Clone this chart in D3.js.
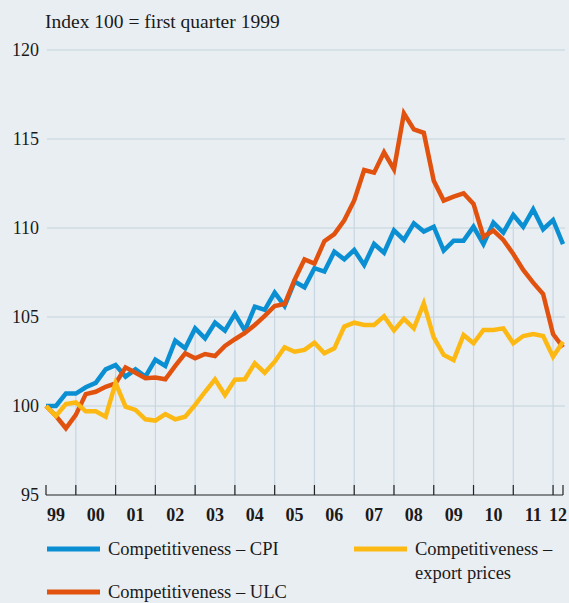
<!DOCTYPE html>
<html>
<head>
<meta charset="utf-8">
<script src="https://cdn.jsdelivr.net/npm/d3@7"></script>
<style>
  body { margin: 0; background: #e9eef3; }
  svg { display: block; }
  text { font-family: "Liberation Serif", "Times New Roman", serif; fill: #1a1a1a; }
</style>
</head>
<body>
<div id="chart"></div>
<script>
// quarterly data, 1999 Q1 .. 2012 Q1 (index 100 = 1999 Q1)
var cpi = [100.0, 100.0, 100.7, 100.7, 101.05, 101.3, 102.06, 102.3, 101.65, 102.06,
  101.65, 102.6, 102.25, 103.67, 103.24, 104.36, 103.8, 104.68, 104.23, 105.17,
  104.23, 105.58, 105.4, 106.37, 105.62, 106.99, 106.67, 107.74, 107.55, 108.67,
  108.24, 108.76, 107.92, 109.1, 108.61, 109.87, 109.33, 110.26, 109.8, 110.07,
  108.73, 109.29, 109.29, 110.07, 109.1, 110.3, 109.74, 110.73, 110.07, 111.05,
  109.93, 110.45, 109.1]
var ulc = [100.0, 99.44, 98.75, 99.5, 100.67, 100.8, 101.08, 101.27, 102.17, 101.87,
  101.56, 101.6, 101.5, 102.25, 102.96, 102.68, 102.92, 102.81, 103.37, 103.75,
  104.1, 104.55, 105.06, 105.62, 105.73, 107.08, 108.24, 108.0, 109.26, 109.66,
  110.43, 111.55, 113.26, 113.11, 114.25, 113.3, 116.44, 115.54, 115.35, 112.66,
  111.54, 111.76, 111.95, 111.35, 109.51, 109.85, 109.33, 108.54, 107.64, 106.93,
  106.29, 104.04, 103.3]
var exportPrices = [100.0, 99.44, 100.11, 100.2, 99.7, 99.7, 99.4, 101.3, 99.96, 99.78,
  99.25, 99.18, 99.55, 99.25, 99.4, 100.06, 100.8, 101.5, 100.62, 101.48,
  101.5, 102.4, 101.87, 102.49, 103.3, 103.05, 103.15, 103.56, 102.96, 103.24,
  104.46, 104.68, 104.55, 104.55, 105.04, 104.25, 104.9, 104.36, 105.77, 103.86,
  102.87, 102.58, 103.99, 103.52, 104.27, 104.27, 104.36, 103.52, 103.93, 104.04,
  103.93, 102.77, 103.61]

var yearLabels = ["99", "00", "01", "02", "03", "04", "05", "06", "07", "08", "09", "10", "11", "12"]
var yTicks = [95, 100, 105, 110, 115, 120]
var seriesNames = ["Competitiveness \u2013 CPI", "Competitiveness \u2013 ULC",
  ["Competitiveness \u2013", "export prices"]]
var colors = { cpi: "#0b8fd3", ulc: "#e2520f", exp: "#fdb913" }

var width = 569, height = 603
var svg = d3.select("#chart").append("svg")
  .attr("width", width)
  .attr("height", height)

svg.append("rect").attr("width", width).attr("height", height).attr("fill", "#e9eef3")

var nQ = cpi.length
var x = d3.scaleLinear().domain([0, nQ - 1]).range([46, 563])
var y = d3.scaleLinear().domain([95, 120]).range([495, 50])

// title
svg.append("text")
  .attr("x", 45).attr("y", 28)
  .style("font-size", "19.5px")
  .text("Index 100 = first quarter 1999")

// horizontal gridlines
svg.append("g").selectAll("line")
  .data(yTicks.filter(function(d) { return d > 95 }))
  .enter().append("line")
  .attr("x1", 47).attr("x2", 565)
  .attr("y1", function(d) { return y(d) }).attr("y2", function(d) { return y(d) })
  .attr("stroke", "#c3d1dc").attr("stroke-width", 1.2)

// y labels
svg.append("g").selectAll("text")
  .data(yTicks)
  .enter().append("text")
  .attr("x", 39)
  .attr("y", function(d) { return y(d) })
  .attr("dy", "0.35em")
  .attr("text-anchor", "end")
  .style("font-size", "18px")
  .text(function(d) { return d })

// year boundaries (end of Q4)
var bounds = []
for (var i = 3; i < nQ - 1; i += 4) bounds.push(i)

// vertical drop lines up to the highest series
svg.append("g").selectAll("line")
  .data(bounds)
  .enter().append("line")
  .attr("x1", function(d) { return x(d) }).attr("x2", function(d) { return x(d) })
  .attr("y1", y(95))
  .attr("y2", function(d) { return y(Math.max(cpi[d], ulc[d], exportPrices[d])) })
  .attr("stroke", "#c8d6e1").attr("stroke-width", 1.2)

// x axis
var axis = svg.append("g").attr("stroke", "#222").attr("stroke-width", 1.2)
axis.append("line")
  .attr("x1", x(0)).attr("x2", x(nQ - 1))
  .attr("y1", y(95)).attr("y2", y(95))
axis.selectAll(".tk")
  .data([0].concat(bounds, [nQ - 1]))
  .enter().append("line")
  .attr("class", "tk")
  .attr("x1", function(d) { return x(d) }).attr("x2", function(d) { return x(d) })
  .attr("y1", y(95) - 10).attr("y2", y(95))

svg.append("g").selectAll("text")
  .data(yearLabels)
  .enter().append("text")
  .attr("x", function(d, k) {
    var lo = x(k * 4 - 1), hi = Math.min(x(k * 4 + 3), x(nQ - 1))
    return (lo + hi) / 2
  })
  .attr("y", 521)
  .attr("text-anchor", "middle")
  .style("font-size", "18px")
  .style("font-weight", "bold")
  .text(function(d) { return d })

// lines
var line = d3.line()
  .x(function(d, i) { return x(i) })
  .y(function(d) { return y(d) })

var series = [[cpi, colors.cpi], [ulc, colors.ulc], [exportPrices, colors.exp]]
series.forEach(function(s) {
  svg.append("path")
    .datum(s[0])
    .attr("fill", "none")
    .attr("stroke", s[1])
    .attr("stroke-width", 4.5)
    .attr("stroke-linejoin", "miter")
    .attr("d", line)
})

// legend
var legend = svg.append("g")
var items = [
  { x: 47, y: 549, color: colors.cpi, label: [seriesNames[0]] },
  { x: 47, y: 592, color: colors.ulc, label: [seriesNames[1]] },
  { x: 354, y: 549, color: colors.exp, label: seriesNames[2] }
]
items.forEach(function(it) {
  legend.append("line")
    .attr("x1", it.x).attr("x2", it.x + 53)
    .attr("y1", it.y).attr("y2", it.y)
    .attr("stroke", it.color).attr("stroke-width", 5)
  it.label.forEach(function(t, k) {
    legend.append("text")
      .attr("x", it.x + 61).attr("y", it.y + k * 23.5)
      .attr("dy", "0.35em")
      .style("font-size", "18.5px")
      .text(t)
  })
})
</script>
</body>
</html>
